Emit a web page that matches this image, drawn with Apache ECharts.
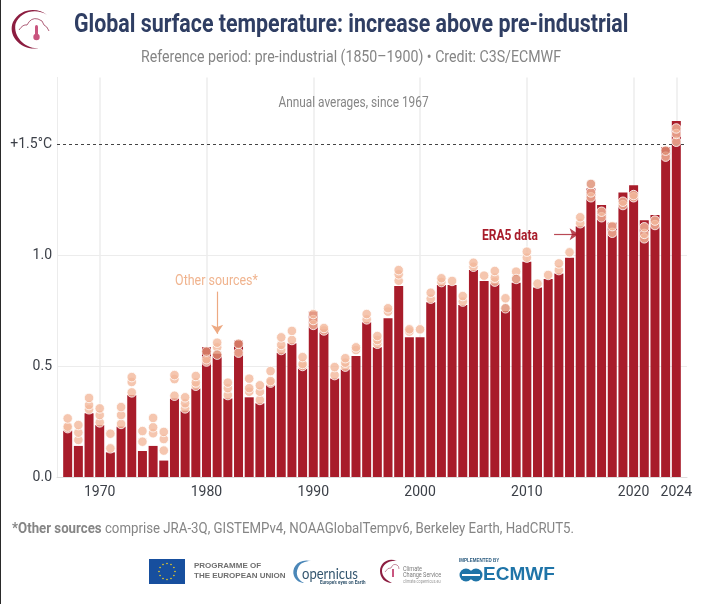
<!DOCTYPE html>
<html>
<head>
<meta charset="utf-8">
<script src="https://cdn.jsdelivr.net/npm/echarts@6/dist/echarts.min.js"></script>
<style>
  html, body { margin: 0; padding: 0; background: #fff; }
  #chart { width: 701px; height: 604px; }
</style>
</head>
<body>
<div id="chart"></div>
<script>
// ERA5 annual averages, 1967-2024
const years = [1967,1968,1969,1970,1971,1972,1973,1974,1975,1976,1977,1978,1979,1980,1981,1982,1983,1984,1985,1986,1987,1988,1989,1990,1991,1992,1993,1994,1995,1996,1997,1998,1999,2000,2001,2002,2003,2004,2005,2006,2007,2008,2009,2010,2011,2012,2013,2014,2015,2016,2017,2018,2019,2020,2021,2022,2023,2024];
const era5 = [.21,.14,.287,.234,.111,.227,.369,.117,.14,.074,.354,.299,.399,.584,.555,.354,.614,.359,.332,.414,.56,.602,.489,.745,.665,.444,.485,.545,.697,.584,.715,.86,.629,.629,.787,.865,.865,.775,.932,.883,.872,.748,.875,.97,.854,.892,.917,.988,1.13,1.30,1.225,1.145,1.282,1.314,1.156,1.18,1.485,1.604];

// other sources, highest / middle / lowest visible dot per year
const otherHigh = [.264,.234,.356,.309,.195,.315,.45,.207,.266,.203,.459,.359,.455,.53,.605,.425,.56,.443,.413,.477,.629,.658,.54,.734,.671,.495,.535,.584,.734,.635,.76,.932,.665,.665,.83,.895,.883,.815,.965,.907,.928,.805,.925,1.015,.871,.91,.962,1.012,1.17,1.282,1.195,1.13,1.24,1.27,1.125,1.155,1.443,1.57];
const otherMid = [.227,.20,.324,.279,.129,.279,.428,.159,.224,.171,.441,.332,.426,.52,.584,.40,null,.40,.384,.432,.595,.617,.509,.707,.66,.459,.515,.572,.71,.617,.745,.913,.655,null,.803,.878,null,.79,.947,null,.898,null,null,.988,null,null,.932,null,1.143,1.26,1.17,1.10,1.225,1.26,1.095,1.135,null,1.545];
const otherLow = [.22,.167,.305,.246,null,.239,.381,null,.197,.119,.366,.309,.411,null,null,.369,null,.384,.347,.425,.572,null,.50,.685,null,null,.497,null,null,.60,null,.884,null,null,null,null,null,null,null,null,.88,null,null,null,null,null,null,null,null,null,null,null,null,null,1.075,null,null,1.51];
const darkYears = [1980,1981,1983,2008,2009,2016,2023];
const darkValues = [.565,.551,.60,.76,.892,1.32,1.47];

const labelYears = [1970,1980,1990,2000,2010,2020,2024];
const yLabelValues = [0,0.5,1,1.5];
const yGridValues = [0,0.5,1];

const BAR = '#a81c2a', DOT = '#f3b89b', DOT_DARK = '#dd8d72', GREY = '#858585', INK = '#2f3e63', LOGO = '#8c1d40', AXIS_TEXT = '#3c4048';
const FONT = 'Roboto, sans-serif';

function pairs(xs, ys) {
    return xs.map((x, i) => [x, ys[i]]).filter(p => p[1] != null);
}

function dotSeries(name, data, color) {
    return {
        name: name,
        type: 'scatter',
        data: data,
        symbolSize: 9.5,
        z: 5,
        itemStyle: { color: color, borderColor: '#fff', borderWidth: 1 },
        animation: false
    };
}

// text helper, sx squeezes the font to look condensed
function txt(x, y, text, size, color, opts) {
    opts = opts || {};
    return {
        type: 'text', x: x, y: y, scaleX: opts.sx || 1, z: 20,
        style: {
            text: text, fill: color,
            font: (opts.weight || 'normal') + ' ' + size + 'px ' + (opts.family || FONT),
            textAlign: opts.align || 'left', textVerticalAlign: 'middle',
            rich: opts.rich
        }
    };
}

// graphic has no plain svg path type, so each logo outline gets registered
let pathCount = 0;
function svgPath(d, style) {
    const name = 'logoPath' + (pathCount++);
    echarts.graphic.registerShape(name, echarts.graphic.extendPath(d, {}));
    return { type: name, z: 20, style: style };
}

function logoElements() {
    const out = [];
    // top left logo
    out.push(svgPath('M47 15 C38 7 20 8 13 22 C7 36 22 52 40 48 C26 50 13 37 15.5 24 C20 11 37 8 47 15 Z', { fill: LOGO }));
    out.push(svgPath('M19 30 Q23 24 27 25 Q31 17 38 19 Q43 20 44 25 Q47 26 49 31', { fill: 'none', stroke: LOGO, lineWidth: 0.7 }));
    out.push({ type: 'rect', z: 20, shape: { x: 35, y: 25, width: 3, height: 11, r: 1.5 }, style: { fill: '#c9557f' } });
    out.push({ type: 'circle', z: 20, shape: { cx: 36.5, cy: 37, r: 3.2 }, style: { fill: '#c9557f' } });

    // EU flag
    out.push({ type: 'rect', z: 20, shape: { x: 149, y: 559, width: 36, height: 25 }, style: { fill: '#174f9e' } });
    for (let i = 0; i < 12; i++) {
        const a = i * Math.PI / 6;
        out.push({ type: 'circle', z: 21, shape: { cx: 167 + 8 * Math.cos(a), cy: 571.5 + 8 * Math.sin(a), r: 0.8 }, style: { fill: '#f4d21f' } });
    }
    out.push(txt(194, 566, 'PROGRAMME OF', 8, '#6f6f6f', { weight: 'bold', family: 'Liberation Sans, sans-serif' }));
    out.push(txt(194, 576, 'THE EUROPEAN UNION', 8, '#6f6f6f', { weight: 'bold', family: 'Liberation Sans, sans-serif' }));

    // Copernicus
    out.push(svgPath('M311 561 C298 558 291 568 294 576 C296 581 301 583 304 583 C298 580 295 574 298 568 C300 563 305 561 311 561 Z', { fill: '#4b87b8' }));
    out.push(txt(302, 574, 'opernicus', 15, '#34566f', { family: 'Lato, sans-serif', sx: 0.87 }));
    out.push(txt(320, 582, "Europe's eyes on Earth", 6, '#34566f', { weight: 'bold', sx: 0.75 }));

    // Climate Change Service
    out.push(svgPath('M397 561 C388 557 380 563 380 571 C380 578 385 583 392 583 C386 580 382 576 382 571 C382 565 389 560 397 561 Z', { fill: LOGO }));
    out.push(svgPath('M385 572 Q388 567 391 568 Q393 563 397 565 Q399 566 399 569', { fill: 'none', stroke: LOGO, lineWidth: 0.5 }));
    out.push({ type: 'rect', z: 20, shape: { x: 392, y: 569, width: 2, height: 8 }, style: { fill: '#c9557f' } });
    out.push(txt(403, 569, 'Climate', 6.5, '#7a7a7a', { sx: 0.85 }));
    out.push(txt(403, 575.5, 'Change Service', 6.5, '#7a7a7a', { sx: 0.85 }));
    out.push(txt(403, 582, 'climate.copernicus.eu', 4.5, '#9a9a9a', { sx: 0.85 }));

    // ECMWF
    out.push(txt(459, 561, 'IMPLEMENTED BY', 5, '#2d5d80', { weight: 'bold', family: 'Liberation Sans, sans-serif', sx: 0.9 }));
    out.push({ type: 'circle', z: 20, shape: { cx: 466, cy: 575, r: 6.5 }, style: { fill: '#1f74a8' } });
    out.push({ type: 'circle', z: 20, shape: { cx: 476, cy: 575, r: 6.5 }, style: { fill: '#1f74a8' } });
    out.push({ type: 'rect', z: 21, shape: { x: 462, y: 574, width: 18, height: 2 }, style: { fill: '#fff' } });
    out.push(txt(483, 575, 'ECMWF', 19, '#1f74a8', { weight: 'bold', family: 'Liberation Sans, sans-serif', sx: 1.0 }));
    return out;
}

const chart = echarts.init(document.getElementById('chart'), null, { renderer: 'canvas' });

const option = {
    animation: false,
    backgroundColor: '#fff',
    textStyle: { fontFamily: FONT },
    grid: { left: 57, right: 14, top: 77.4, bottom: 127, containLabel: false },
    xAxis: {
        type: 'value', min: 1966, max: 2025,
        axisLine: { show: true, lineStyle: { color: '#dedede', width: 1 } },
        axisTick: { show: false, customValues: labelYears },
        axisLabel: {
            customValues: labelYears, color: AXIS_TEXT, fontSize: 14, margin: 8,
            formatter: v => String(v)
        },
        splitLine: { show: true, lineStyle: { color: '#ececec', width: 1.5 } }
    },
    yAxis: {
        type: 'value', min: 0, max: 1.8,
        axisLine: { show: true, lineStyle: { color: '#ececec', width: 1 } },
        axisTick: { show: false, customValues: yGridValues },
        axisLabel: {
            customValues: yLabelValues, color: AXIS_TEXT, fontSize: 14, margin: 5, padding: [3, 0, 0, 0],
            formatter: v => v === 1.5 ? '+1.5°C' : v.toFixed(1)
        },
        splitLine: { show: true, lineStyle: { color: '#ececec', width: 1 } }
    },
    series: [
        {
            name: 'ERA5',
            type: 'bar',
            data: pairs(years, era5),
            barWidth: 9,
            z: 3,
            itemStyle: { color: BAR },
            markLine: {
                silent: true,
                animation: false,
                label: { show: false },
                z: 4,
                data: [
                    [
                        { coord: [1966, 1.5], symbol: 'none', lineStyle: { color: '#444', type: [3, 3], width: 1.2 } },
                        { coord: [2025, 1.5], symbol: 'none' }
                    ],
                    [
                        { coord: [1981, 0.835], symbol: 'none', lineStyle: { color: '#eda982', type: 'solid', width: 1.2 } },
                        { coord: [1981, 0.645], symbol: 'arrow', symbolSize: 9 }
                    ],
                    [
                        { coord: [2012.55, 1.093], symbol: 'none', lineStyle: { color: BAR, type: 'solid', width: 1.2, opacity: 0.8 } },
                        { coord: [2014.85, 1.093], symbol: 'arrow', symbolSize: 9 }
                    ]
                ]
            }
        },
        dotSeries('Other sources low', pairs(years, otherLow), DOT),
        dotSeries('Other sources mid', pairs(years, otherMid), DOT),
        dotSeries('Other sources high', pairs(years, otherHigh), DOT),
        dotSeries('Other sources overlap', pairs(darkYears, darkValues), DOT_DARK)
    ],
    graphic: { elements: [
        { type: 'rect', z: 20, shape: { x: 0, y: 0, width: 1, height: 604 }, style: { fill: '#2a2a2a' } },
        txt(74, 26, 'Global surface temperature: increase above pre-industrial', 25, INK, { weight: 'bold', sx: 0.855 }),
        txt(351, 58, 'Reference period: pre-industrial (1850–1900) • Credit: C3S/ECMWF', 16, GREY, { align: 'center', sx: 0.885 }),
        txt(353.5, 103, 'Annual averages, since 1967', 15, GREY, { align: 'center', sx: 0.79 }),
        txt(216.5, 281, 'Other sources*', 15, '#f0b48f', { align: 'center', sx: 0.83 }),
        txt(510, 236, 'ERA5 data', 15, BAR, { weight: 'bold', align: 'center', sx: 0.8 }),
        txt(12, 529, '{b|*Other sources} comprise JRA-3Q, GISTEMPv4, NOAAGlobalTempv6, Berkeley Earth, HadCRUT5.', 15, GREY, {
            sx: 0.883,
            rich: {
                b: { fontWeight: 'bold', fontSize: 15, fontFamily: 'Roboto', fill: GREY }
            }
        })
    ].concat(logoElements()) }
};

chart.setOption(option);
</script>
</body>
</html>
